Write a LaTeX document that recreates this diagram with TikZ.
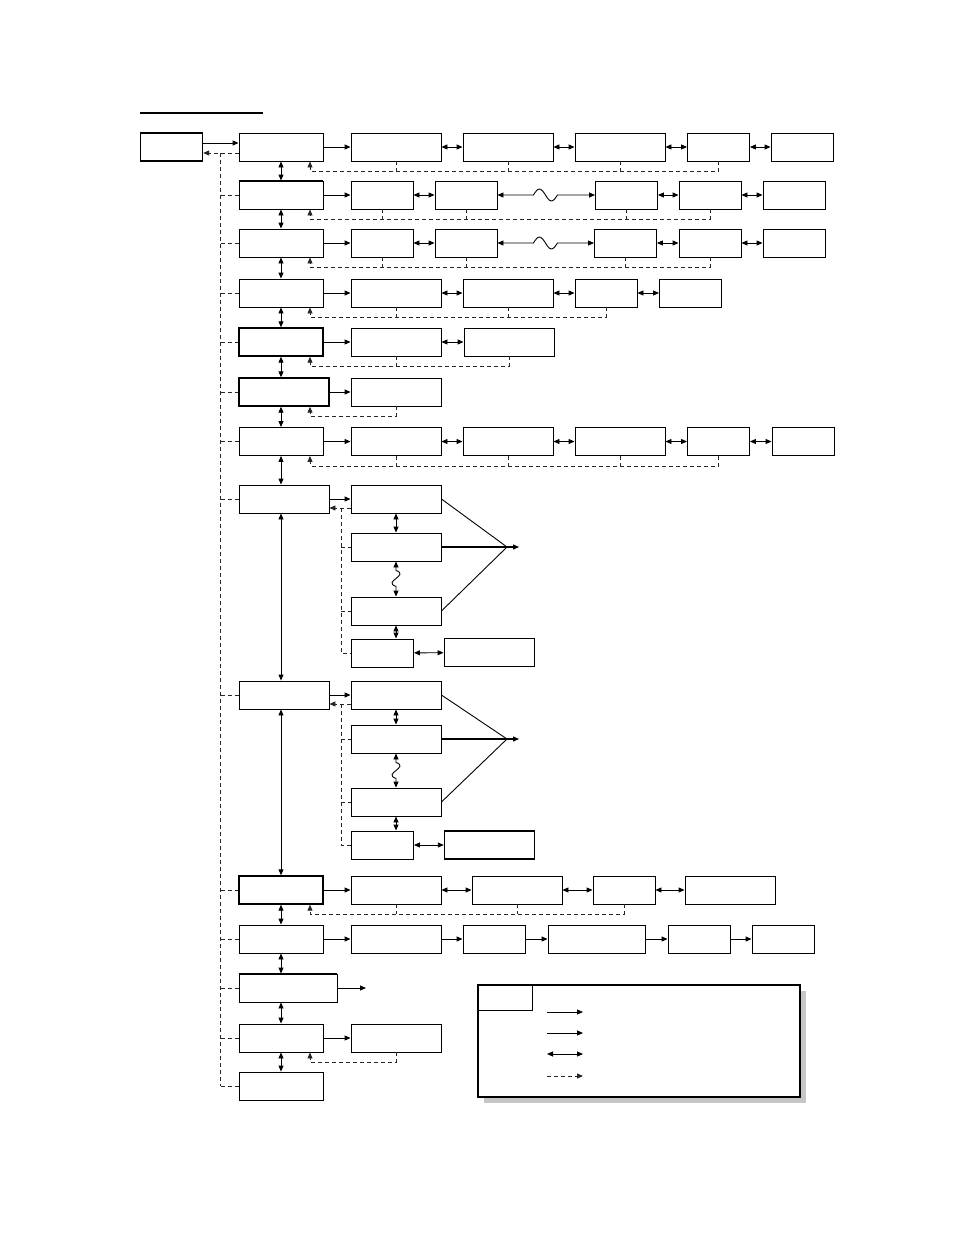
\documentclass[tikz,border=0pt]{standalone}
\usepackage{tikz}
\usetikzlibrary{arrows.meta,shadows}

\tikzset{
  bx/.style={draw, line width=0.9pt, fill=white, minimum height=28pt, inner sep=0pt},
  main/.style={bx, minimum width=84pt},
  wide/.style={bx, minimum width=90pt},
  short/.style={bx, minimum width=62pt},
  heavy/.style={line width=1.4pt},
  ret/.style={black!85, line width=0.9pt, dash pattern=on 4pt off 3pt},
}

\begin{document}
\begin{tikzpicture}[x=1pt, y=-1pt, >={Triangle[length=6pt,width=5pt]}, line width=0.9pt]
  \useasboundingbox (0,0) rectangle (954,1235);

  % heading rule
  \draw[line width=1.6pt] (140,113) -- (263,113);

  % row 1
  \node[short, heavy] (a0) at (171.5,147) {};
  \node[main]  (b1) at (281,147) {};
  \node[wide]  (c1) at (396,147) {};
  \node[wide]  (d1) at (508,147) {};
  \node[wide]  (e1) at (620,147) {};
  \node[short] (f1) at (718.5,147) {};
  \node[short] (g1) at (802,147) {};

  % rows 2 and 3 (with the long jump)
  \foreach \r/\y/\ex in {2/195/626.5,3/243/625.5}{
    \node[main]  (b\r) at (281,\y) {};
    \node[short] (c\r) at (382,\y) {};
    \node[short] (d\r) at (466,\y) {};
    \node[short] (e\r) at (\ex,\y) {};
    \node[short] (f\r) at (710,\y) {};
    \node[short] (g\r) at (794,\y) {};
  }
  \draw[heavy] (b2.north west) -- (b2.north east) (b2.south west) -- (b2.south east);

  % row 4
  \node[main]  (b4) at (281,293) {};
  \node[wide]  (c4) at (396,293) {};
  \node[wide]  (d4) at (508,293) {};
  \node[short] (e4) at (606,293) {};
  \node[short] (f4) at (690.5,293) {};

  % row 5
  \node[main, heavy] (b5) at (281,342) {};
  \node[wide]  (c5) at (396,342) {};
  \node[wide]  (d5) at (509,342) {};

  % row 6
  \node[wide, heavy] (b6) at (284,392) {};
  \node[wide]  (c6) at (396,392) {};

  % row 7
  \node[main]  (b7) at (281,441.5) {};
  \node[wide]  (c7) at (396,441.5) {};
  \node[wide]  (d7) at (508,441.5) {};
  \node[wide]  (e7) at (620,441.5) {};
  \node[short] (f7) at (718.5,441.5) {};
  \node[short] (g7) at (803,441.5) {};

  % branch groups 8 and 9
  \node[wide]  (b8)  at (284,499) {};
  \node[wide]  (c8a) at (396,499) {};
  \node[wide]  (c8b) at (396,547) {};
  \node[wide]  (c8c) at (396,611) {};
  \node[short] (c8d) at (382.5,653) {};
  \node[wide]  (h8)  at (489,652.5) {};
  \coordinate (m8) at (507,547);

  \node[wide]  (b9)  at (284,695) {};
  \node[wide]  (c9a) at (396,695) {};
  \node[wide]  (c9b) at (396,739) {};
  \node[wide]  (c9c) at (396,802) {};
  \node[short] (c9d) at (382.5,845) {};
  \node[wide, heavy] (h9) at (489.5,845) {};
  \coordinate (m9) at (507,739);

  % row 10
  \node[main, heavy] (b10) at (281,890) {};
  \node[wide]  (c10) at (396,890) {};
  \node[wide]  (d10) at (517,890) {};
  \node[short] (e10) at (624,890) {};
  \node[wide]  (f10) at (730,890) {};

  % row 11
  \node[main]  (b11) at (281,939) {};
  \node[wide]  (c11) at (396,939) {};
  \node[short] (d11) at (494,939) {};
  \node[bx, minimum width=97pt] (e11) at (596.5,939) {};
  \node[short] (f11) at (699,939) {};
  \node[short] (g11) at (783,939) {};

  % rows 12 to 14
  \node[bx, minimum width=98pt] (b12) at (288,988) {};
  \draw[heavy] (b12.north west) -- (b12.north east);
  \coordinate (o12) at (366,988);
  \node[main]  (b13) at (281,1038) {};
  \node[wide]  (c13) at (396,1038) {};
  \node[main]  (b14) at (281,1086) {};

  % column links
  \foreach \u/\v in {b1/b2,b2/b3,b3/b4,b4/b5,b5/b6,b6/b7,b7/b8,b8/b9,b9/b10,b10/b11,b11/b12,b12/b13,b13/b14}
    \draw[<->] (b1 |- \u.south) -- (b1 |- \v.north);

  % dashed trunk back to the start box
  \coordinate (tk) at ([xshift=-18pt,yshift=-6pt]b1.west);
  \draw[->] ([yshift=4pt]a0.east) -- ([yshift=4pt]b1.west);
  \draw[ret,->] ([yshift=-6pt]b1.west) -- ([yshift=-6pt]a0.east);
  \draw[ret] (tk) -- (tk |- b14.west);
  \foreach \n in {b2,b3,b4,b5,b6,b7,b8,b9,b10,b11,b12,b13,b14}
    \draw[ret] (tk |- \n.west) -- (\n.west);

  % row arrows
  \draw[->] (b1) -- (c1);
  \foreach \u/\v in {c1/d1,d1/e1,e1/f1,f1/g1} \draw[<->] (\u) -- (\v);
  \foreach \r in {2,3}{
    \draw[->] (b\r) -- (c\r);
    \draw[<->] (c\r) -- (d\r);
    \draw[<->] (d\r.east) -- ++(36,0) sin ++(6,-6) cos ++(6,6) sin ++(6,6) cos ++(6,-6) -- (e\r.west);
    \draw[<->] (e\r) -- (f\r);
    \draw[<->] (f\r) -- (g\r);
  }
  \draw[->] (b4) -- (c4);
  \foreach \u/\v in {c4/d4,d4/e4,e4/f4} \draw[<->] (\u) -- (\v);
  \draw[->] (b5) -- (c5);
  \draw[<->] (c5) -- (d5);
  \draw[->] (b6) -- (c6);
  \draw[->] (b7) -- (c7);
  \foreach \u/\v in {c7/d7,d7/e7,e7/f7,f7/g7} \draw[<->] (\u) -- (\v);
  \draw[->] (b10) -- (c10);
  \foreach \u/\v in {c10/d10,d10/e10,e10/f10} \draw[<->] (\u) -- (\v);
  \foreach \u/\v in {b11/c11,c11/d11,d11/e11,e11/f11,f11/g11} \draw[->] (\u) -- (\v);
  \draw[->] (b12.east) -- (o12);
  \draw[->] (b13) -- (c13);

  % dashed returns under the rows
  \foreach \b/\f/\lst in {b1/f1/{c1,d1,e1}, b2/f2/{c2,d2,e2}, b3/f3/{c3,d3,e3},
                          b4/e4/{c4,d4}, b5/d5/{c5}, b6/c6/{c6}, b7/f7/{c7,d7,e7},
                          b10/e10/{c10,d10}, b13/c13/{c13}}{
    \draw[ret,->] (\f.south) -- ++(0,10) -| ([xshift=29pt]b1.south |- \b.south);
    \foreach \t in \lst \draw[ret] (\t.south) -- ++(0,10);
  }

  % branch groups: links, returns and merge
  \foreach \g in {8,9}{
    \draw[->] (b\g) -- (c\g a);
    \draw[ret,->] ([yshift=-9pt]c\g a.west) -- ([yshift=-9pt]b\g.east);
    \coordinate (k\g) at ([xshift=12pt,yshift=-9pt]b\g.east);
    \draw[ret] (k\g) |- (c\g d.west);
    \foreach \n in {c\g b,c\g c} \draw[ret] (k\g |- \n.west) -- (\n.west);
    \draw[<->] (c\g a) -- (c\g b);
    \draw[<->] (c\g b.south) -- ++(0,9) .. controls +(14,5) and +(-14,-5) .. ++(0,16) -- (c\g c.north);
    \draw[<->] (c\g c.south) -- (c\g c.south |- c\g d.north);
    \draw[<->] (c\g d) -- (h\g);
    \draw (c\g a.east) -- (m\g);
    \draw (c\g c.east) -- (m\g);
    \draw[->, line width=1.3pt] (c\g b.east) -- (m\g) -- ++(12,0);
  }

  % legend
  \node[draw, line width=2pt, fill=white, minimum width=322pt, minimum height=112pt,
        drop shadow={shadow xshift=6pt, shadow yshift=-6pt, fill=gray!45, opacity=1}]
        (lg) at (639,1041) {};
  \node[draw, line width=1pt, minimum width=55pt, minimum height=26pt, anchor=north west] (lk) at (lg.north west) {};
  \coordinate (la1) at (547,1012);
  \coordinate (la2) at (547,1033);
  \coordinate (la3) at (547,1054);
  \coordinate (la4) at (547,1076);
  \draw[->] (la1) -- ++(36,0);
  \draw[->] (la2) -- ++(36,0);
  \draw[<->] (la3) -- ++(36,0);
  \draw[ret,->] (la4) -- ++(36,0);

\end{tikzpicture}
\end{document}
